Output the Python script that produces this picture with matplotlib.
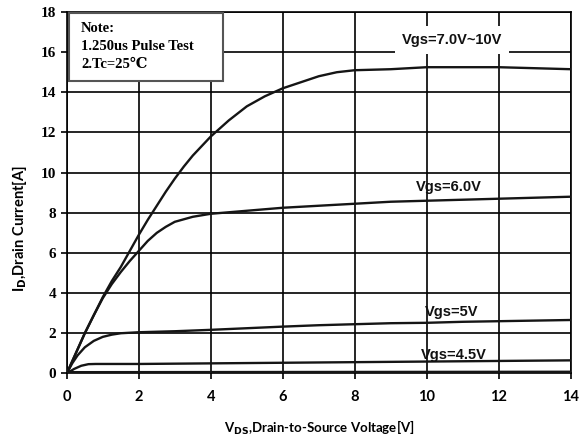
import numpy as np
import matplotlib; matplotlib.use("Agg")
import matplotlib.pyplot as plt
from matplotlib.patches import Rectangle

# --- data ---
vds_hi = [0, 0.25, 0.5, 0.75, 1.0, 1.25, 1.5, 1.75, 2.0, 2.25, 2.5, 2.75, 3.0, 3.25, 3.5,
          4.0, 4.5, 5.0, 5.5, 6.0, 6.5, 7.0, 7.5, 8.0, 9.0, 10, 11, 12, 13, 14]
id_hi = [0, 1.0, 2.0, 2.9, 3.8, 4.6, 5.3, 6.1, 6.9, 7.65, 8.35, 9.05, 9.7, 10.3, 10.85,
         11.8, 12.6, 13.3, 13.8, 14.2, 14.5, 14.8, 15.0, 15.1, 15.15, 15.25, 15.25, 15.25, 15.2, 15.15]

vds_6 = [0, 0.25, 0.5, 0.75, 1.0, 1.25, 1.5, 1.75, 2.0, 2.25, 2.5, 2.75, 3.0, 3.5, 4.0,
         5, 6, 7, 8, 9, 10, 11, 12, 13, 14]
id_6 = [0, 1.0, 2.0, 2.9, 3.75, 4.45, 5.05, 5.6, 6.1, 6.6, 7.0, 7.3, 7.55, 7.8, 7.95,
        8.1, 8.25, 8.35, 8.45, 8.55, 8.6, 8.65, 8.7, 8.75, 8.8]

vds_5 = [0, 0.15, 0.3, 0.5, 0.75, 1.0, 1.25, 1.5, 2, 3, 4, 5, 6, 7, 8, 9, 10, 11, 12, 13, 14]
id_5 = [0, 0.5, 0.9, 1.3, 1.62, 1.82, 1.93, 2.0, 2.05, 2.1, 2.17, 2.25, 2.33, 2.4, 2.45,
        2.5, 2.52, 2.57, 2.6, 2.63, 2.66]

vds_45 = [0, 0.2, 0.4, 0.6, 0.8, 1, 2, 4, 6, 8, 10, 12, 14]
id_45 = [0, 0.22, 0.38, 0.46, 0.47, 0.47, 0.47, 0.5, 0.53, 0.56, 0.59, 0.62, 0.65]

vds_off = [0, 14]
id_off = [0.03, 0.05]

labels = ["Vgs=7.0V~10V", "Vgs=6.0V", "Vgs=5V", "Vgs=4.5V"]
label_xy = [(10.7, 16.6), (10.6, 9.3), (10.7, 3.05), (10.75, 0.9)]
note = ["Note:", "1.250us Pulse Test", "2.Tc=25\u2103"]

# --- plot ---
fig = plt.figure(figsize=(5.86, 4.44), dpi=100)
ax = fig.add_axes([0.114, 0.159, 0.86, 0.814])

lc = "#151515"
for x, y in [(vds_hi, id_hi), (vds_6, id_6), (vds_5, id_5), (vds_45, id_45)]:
    ax.plot(x, y, color=lc, lw=1.7, zorder=3)
ax.plot(vds_off, id_off, color=lc, lw=2.6, zorder=3)

ax.set_xlim(0, 14); ax.set_ylim(0, 18)
ax.set_xticks(range(0, 15, 2)); ax.set_yticks(range(0, 19, 2))
ax.grid(color="black", lw=1.2)
for s in ax.spines.values():
    s.set_color("black"); s.set_linewidth(1.2)
ax.tick_params(direction="out", length=4, width=1.2, colors="black")
for t in ax.get_yticklabels():
    t.set_fontfamily("Liberation Serif"); t.set_fontweight("bold"); t.set_fontsize(11)
for t in ax.get_xticklabels():
    t.set_fontfamily("Lato"); t.set_fontweight("bold"); t.set_fontsize(10.5)
ax.tick_params(axis="x", pad=8)

ax.set_xlabel(r"V$_{\mathbf{DS}}$,Drain-to-Source Voltage[V]", fontfamily="Lato",
              fontweight="bold", fontsize=9.5)
ax.set_ylabel(r"I$_{\mathbf{D}}$,Drain Current[A]", fontfamily="Lato",
              fontweight="bold", fontsize=10.5)
ax.xaxis.set_label_coords(0.5, -0.125)
ax.yaxis.set_label_coords(-0.075, 0.40)

for i, (txt, (x, y)) in enumerate(zip(labels, label_xy)):
    kw = dict(facecolor="white", edgecolor="none", pad=5) if i == 0 else None
    ax.text(x, y, txt, ha="center", va="center", fontfamily="Liberation Sans",
            fontweight="bold", fontsize=10.5, color="#111", bbox=kw, zorder=4)

ax.add_patch(Rectangle((0.07, 14.58), 4.27, 3.39, facecolor="white",
                       edgecolor="#555", lw=1.5, zorder=4))
for i, line in enumerate(note):
    ax.text(0.4, 17.2 - i * 0.92, line, ha="left", va="center",
            fontfamily=["Liberation Serif", "DejaVu Serif"], fontweight="bold",
            fontsize=10.5, zorder=5)

fig.savefig("out.png", dpi=100)
